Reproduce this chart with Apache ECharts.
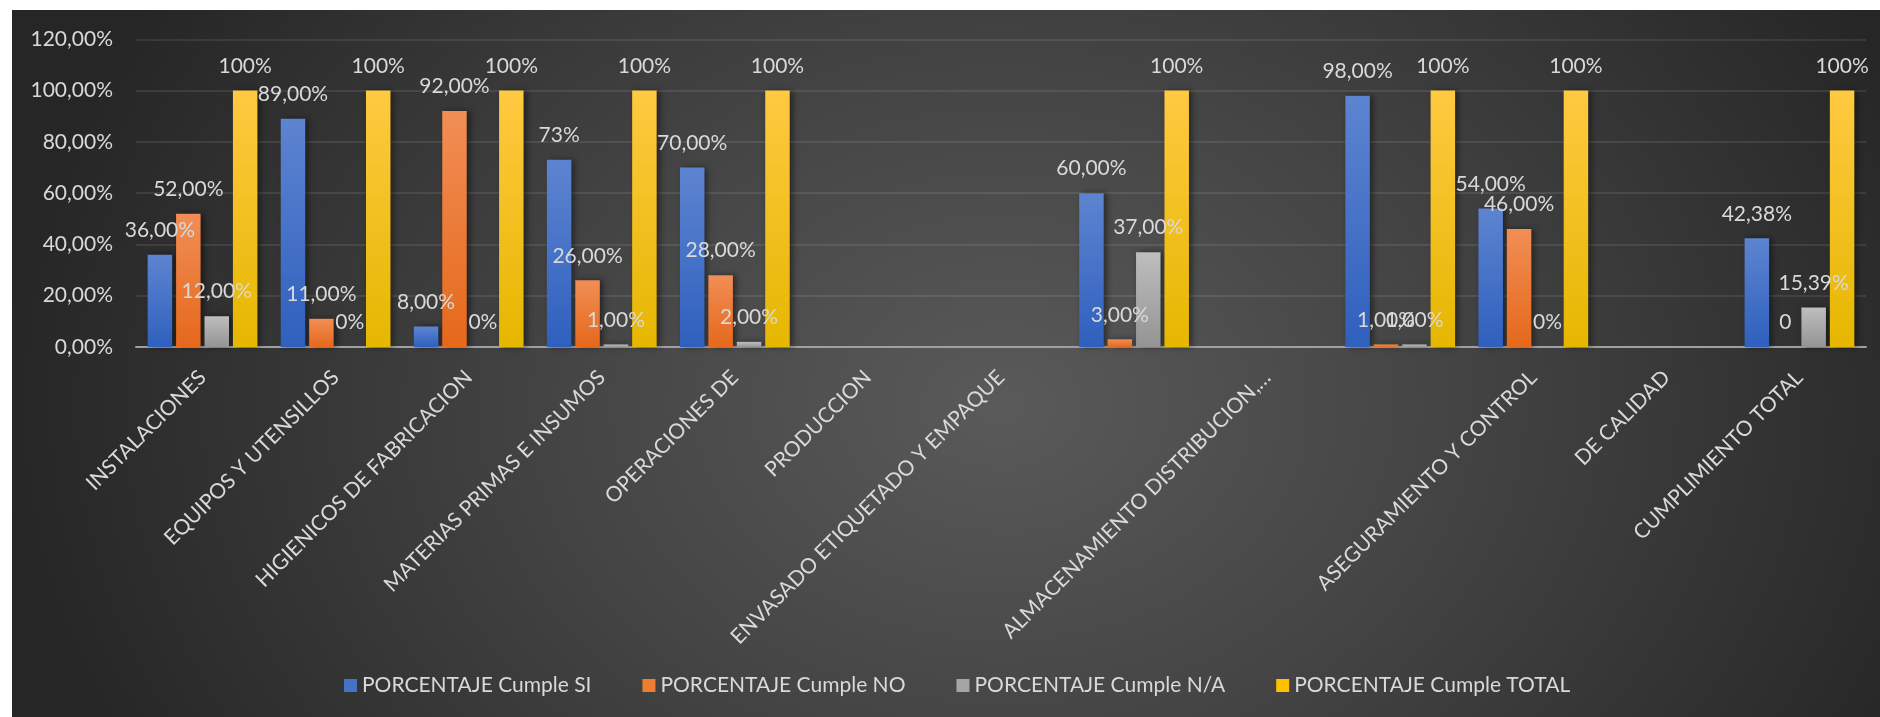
<!DOCTYPE html>
<html>
<head>
<meta charset="utf-8">
<script src="https://cdn.jsdelivr.net/npm/echarts@6/dist/echarts.min.js"></script>
<style>
html,body{margin:0;padding:0;background:#ffffff;}
#bg{position:absolute;left:12px;top:10px;width:1868px;height:707px;
background:radial-gradient(ellipse 1000px 760px at 53% 56%, #5a5a5a 0%, #444444 45%, #262626 100%);}
#chart{position:absolute;left:0;top:0;width:1880px;height:717px;}
</style>
</head>
<body>
<div id="bg"></div>
<div id="chart"></div>
<script>
const categories = ['INSTALACIONES','EQUIPOS Y UTENSILLOS','HIGIENICOS DE FABRICACION','MATERIAS PRIMAS E INSUMOS','OPERACIONES DE','PRODUCCION','ENVASADO ETIQUETADO Y EMPAQUE','','ALMACENAMIENTO DISTRIBUCION,…','','ASEGURAMIENTO Y CONTROL','DE CALIDAD','CUMPLIMIENTO TOTAL'];
const seriesNames = ['PORCENTAJE Cumple SI','PORCENTAJE Cumple NO','PORCENTAJE Cumple N/A','PORCENTAJE Cumple TOTAL'];
const valuesSI    = [36, 89, 8, 73, 70, null, null, 60, null, 98, 54, null, 42.38];
const valuesNO    = [52, 11, 92, 26, 28, null, null, 3, null, 1, 46, null, 0];
const valuesNA    = [12, 0, 0, 1, 2, null, null, 37, null, 1, 0, null, 15.39];
const valuesTOTAL = [100, 100, 100, 100, 100, null, null, 100, null, 100, 100, null, 100];
const labelsSI    = ['36,00%','89,00%','8,00%','73%','70,00%','','','60,00%','','98,00%','54,00%','','42,38%'];
const labelsNO    = ['52,00%','11,00%','92,00%','26,00%','28,00%','','','3,00%','','1,00%','46,00%','','0'];
const labelsNA    = ['12,00%','0%','0%','1,00%','2,00%','','','37,00%','','1,00%','0%','','15,39%'];
const labelsTOTAL = ['100%','100%','100%','100%','100%','','','100%','','100%','100%','','100%'];
const yTicks = [0, 20, 40, 60, 80, 100, 120];

const FONT = 'Lato';
const FS = 21;
const TXT = '#d9d9d9';
const grad = (a, b) => new echarts.graphic.LinearGradient(0, 0, 0, 1, [{offset: 0, color: a}, {offset: 1, color: b}]);
const colors = [grad('#5d84d0', '#2f60be'), grad('#f18e55', '#e6681b'), grad('#bebebe', '#949494'), grad('#ffc941', '#e6b700')];
const legendColors = ['#4472c4', '#ed7d31', '#a5a5a5', '#ffc000'];
const allValues = [valuesSI, valuesNO, valuesNA, valuesTOTAL];
const allLabels = [labelsSI, labelsNO, labelsNA, labelsTOTAL];

const chart = echarts.init(document.getElementById('chart'), null, {renderer: 'canvas'});
chart.setOption({
  backgroundColor: 'transparent',
  animation: false,
  textStyle: {fontFamily: FONT},
  grid: {left: 136, right: 14, top: 39.3, bottom: 370, containLabel: false},
  legend: {
    data: seriesNames.map((n, i) => ({name: n, itemStyle: {color: legendColors[i]}})),
    left: 339, top: 670,
    icon: 'rect', itemWidth: 13, itemHeight: 13, itemGap: 51,
    textStyle: {color: TXT, fontSize: FS, fontFamily: FONT}
  },
  xAxis: {
    type: 'category',
    data: categories,
    axisLine: {show: true, lineStyle: {color: '#a0a0a0', width: 2}},
    axisTick: {show: false},
    axisLabel: {interval: 0, rotate: 45, color: TXT, fontSize: FS, fontFamily: FONT, margin: 27}
  },
  yAxis: {
    type: 'value',
    min: yTicks[0], max: yTicks[yTicks.length - 1], interval: 20,
    axisLine: {show: false},
    axisTick: {show: false},
    axisLabel: {color: TXT, fontSize: FS, fontFamily: FONT, margin: 23,
      formatter: v => v.toFixed(2).replace('.', ',') + '%'},
    splitLine: {lineStyle: {color: 'rgba(255,255,255,0.09)', width: 2}}
  },
  series: seriesNames.map((name, i) => ({
    name: name,
    type: 'bar',
    data: allValues[i],
    barWidth: 24.5,
    barGap: '16%',
    itemStyle: {color: colors[i], shadowColor: 'rgba(0,0,0,0.45)', shadowBlur: 6, shadowOffsetX: 3},
    label: {
      show: true, position: 'top', distance: 14,
      color: TXT, fontSize: FS, fontFamily: FONT,
      formatter: p => allLabels[i][p.dataIndex]
    }
  }))
});
</script>
</body>
</html>
